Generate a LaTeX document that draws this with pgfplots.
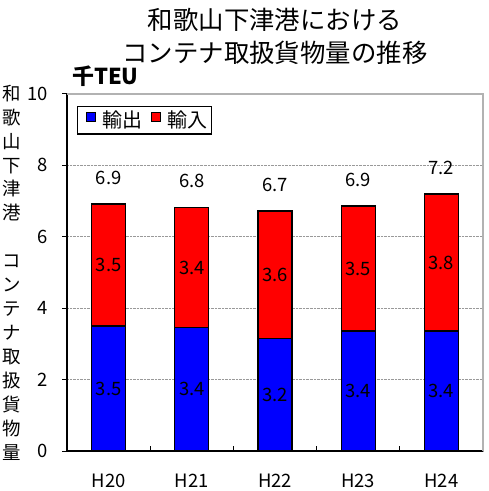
\documentclass[border=0pt]{standalone}
\usepackage{fontspec}
\setmainfont{Noto Sans CJK JP}
\usepackage{pgfplots}
\pgfplotsset{compat=1.18}
\definecolor{exblue}{RGB}{0,0,255}
\definecolor{imred}{RGB}{255,0,0}
\tikzset{vl/.style={font=\fontsize{18.5}{20}\selectfont}}
\begin{document}
\begin{tikzpicture}
\begin{axis}[
  name=ax,
  scale only axis, width=416bp, height=357bp,
  xmin=-0.5, xmax=4.5, ymin=0, ymax=10,
  ybar stacked, bar width=34bp,
  xtick={0,1,2,3,4}, xticklabels={H20,H21,H22,H23,H24},
  major x tick style={draw=none},
  minor xtick={0.5,1.5,2.5,3.5},
  ytick={0,2,4,6,8,10},
  tick align=outside, tick pos=left,
  major tick length=5bp, minor tick length=5bp,
  minor x tick style={yshift=5bp, black, line width=1pt},
  major y tick style={black, line width=1pt},
  ymajorgrids, major grid style={gray!80, densely dotted, line width=0.6pt},
  axis x line*=bottom, axis y line*=left,
  axis line style={black, line width=1.4pt},
  ticklabel style={font=\fontsize{18.5}{20}\selectfont},
  /pgf/number format/assume math mode=true,
  yticklabel style={xshift=-11bp},
  xticklabel style={yshift=-14bp},
  legend style={at={(0.024,0.966)}, anchor=north west, legend columns=-1,
    draw=black, line width=1.2pt, inner sep=2.5bp,
    font=\fontsize{20}{22}\selectfont,
    /tikz/every even column/.append style={column sep=1bp}},
  legend image code/.code={\draw[#1, line width=0.8pt] (0bp,-1.5bp) rectangle (9bp,7.5bp); \path (-6bp,0bp) (13bp,0bp);},
  clip=false,
]
\addplot[fill=exblue, draw=black, line width=1.2pt] coordinates {(0,3.50) (1,3.45) (2,3.16) (3,3.36) (4,3.36)};
\addplot[fill=imred, draw=black, line width=1.2pt] coordinates {(0,3.42) (1,3.38) (2,3.56) (3,3.50) (4,3.84)};
\legend{輸出,輸入}
\coordinate (b0) at (axis cs:0,1.75);
\coordinate (b1) at (axis cs:1,1.725);
\coordinate (b2) at (axis cs:2,1.58);
\coordinate (b3) at (axis cs:3,1.68);
\coordinate (b4) at (axis cs:4,1.68);
\coordinate (r0) at (axis cs:0,5.21);
\coordinate (r1) at (axis cs:1,5.14);
\coordinate (r2) at (axis cs:2,4.94);
\coordinate (r3) at (axis cs:3,5.11);
\coordinate (r4) at (axis cs:4,5.28);
\coordinate (t0) at (axis cs:0,6.92);
\coordinate (t1) at (axis cs:1,6.83);
\coordinate (t2) at (axis cs:2,6.72);
\coordinate (t3) at (axis cs:3,6.86);
\coordinate (t4) at (axis cs:4,7.20);
\end{axis}
\draw[gray!60, line width=1.2pt] (ax.north west) -- (ax.north east) -- (ax.south east);
\node[vl] at (b0) {3.5};
\node[vl] at (b1) {3.4};
\node[vl] at (b2) {3.2};
\node[vl] at (b3) {3.4};
\node[vl] at (b4) {3.4};
\node[vl] at (r0) {3.5};
\node[vl] at (r1) {3.4};
\node[vl] at (r2) {3.6};
\node[vl] at (r3) {3.5};
\node[vl] at (r4) {3.8};
\node[vl,yshift=26bp] at (t0) {6.9};
\node[vl,yshift=26bp] at (t1) {6.8};
\node[vl,yshift=26bp] at (t2) {6.7};
\node[vl,yshift=26bp] at (t3) {6.9};
\node[vl,yshift=26bp] at (t4) {7.2};
\node[anchor=base, font=\fontsize{25.5}{33}\selectfont] at ([yshift=64.5bp]ax.north) {和歌山下津港における};
\node[anchor=base, font=\fontsize{25.5}{33}\selectfont] at ([yshift=31.5bp]ax.north) {コンテナ取扱貨物量の推移};
\node[anchor=base west, font=\fontsize{22}{24}\selectfont\bfseries, inner sep=0pt] at ([xshift=5bp,yshift=9bp]ax.north west) {千TEU};
\node[align=center, font=\fontsize{18.5}{24}\selectfont] at ([xshift=-55bp]ax.west) {和\\歌\\山\\下\\津\\港\\[24bp]コ\\ン\\テ\\ナ\\取\\扱\\貨\\物\\量};
\pgfresetboundingbox
\path ([shift={(-67bp,-40bp)}]ax.south west) rectangle ([shift={(6bp,94bp)}]ax.north east);
\end{tikzpicture}
\end{document}
